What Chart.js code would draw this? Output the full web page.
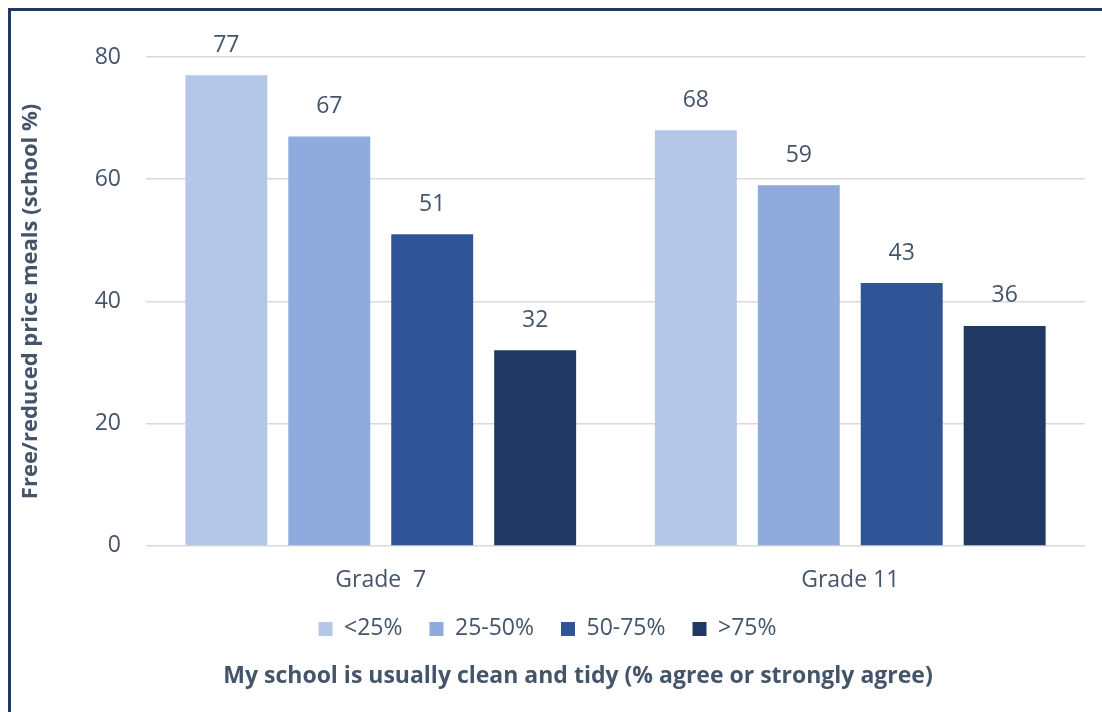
<!DOCTYPE html>
<html lang="en">
<head>
    <meta charset="UTF-8">
    <title>My school is usually clean and tidy</title>
    <script src="https://cdn.jsdelivr.net/npm/chart.js"></script>
    <style>
        body { margin: 0; background: #fff; }
        #frame {
            position: absolute; left: 8px; top: 8px;
            width: 1110px; height: 720px;
            border-left: 3px solid #1F3864; border-top: 3px solid #1F3864;
        }
        #wrap { position: absolute; left: 0; top: 0; width: 1102px; height: 712px; }
    </style>
</head>
<body>
    <div id="frame"></div>
    <div id="wrap"><canvas id="cleanChart" width="1102" height="712"></canvas></div>

    <script>
        const grades = ['Grade  7', 'Grade 11'];
        const mealGroups = ['<25%', '25-50%', '50-75%', '>75%'];
        const under25 = [77, 68];
        const from25to50 = [67, 59];
        const from50to75 = [51, 43];
        const over75 = [32, 36];
        const groupColors = ['#B4C7E7', '#8FAADC', '#2F5597', '#203864'];

        const textColor = '#44546A';
        const fontFamily = '"Open Sans", Lato, sans-serif';

        // value labels above each bar
        const barValues = {
            id: 'barValues',
            afterDatasetsDraw(chart) {
                const ctx = chart.ctx;
                ctx.save();
                ctx.fillStyle = textColor;
                ctx.font = '23px ' + fontFamily;
                ctx.textAlign = 'center';
                ctx.textBaseline = 'middle';
                chart.data.datasets.forEach((ds, i) => {
                    chart.getDatasetMeta(i).data.forEach((bar, j) => {
                        ctx.fillText(ds.data[j], bar.x, bar.y - 30);
                    });
                });
                ctx.restore();
            }
        };

        // nudge the bottom title a bit to the right
        const shiftTitle = {
            id: 'shiftTitle',
            afterLayout(chart) {
                if (chart.titleBlock) chart.titleBlock.left = 71;
            }
        };

        const seriesData = [under25, from25to50, from50to75, over75];

        const ctx = document.getElementById('cleanChart').getContext('2d');
        new Chart(ctx, {
            type: 'bar',
            data: {
                labels: grades,
                datasets: mealGroups.map((name, i) => ({
                    label: name,
                    data: seriesData[i],
                    backgroundColor: groupColors[i],
                    categoryPercentage: 0.877,
                    barPercentage: 0.796
                }))
            },
            options: {
                responsive: false,
                animation: false,
                layout: { padding: { top: 57, right: 17, bottom: 22, left: 10 } },
                plugins: {
                    tooltip: { enabled: false },
                    legend: {
                        position: 'bottom',
                        labels: {
                            color: textColor,
                            font: { family: fontFamily, size: 23 },
                            boxWidth: 14,
                            boxHeight: 14,
                            padding: 27
                        }
                    },
                    title: {
                        display: true,
                        position: 'bottom',
                        text: 'My school is usually clean and tidy (% agree or strongly agree)',
                        color: textColor,
                        font: { family: fontFamily, size: 23, weight: 'bold' },
                        padding: { top: 12, bottom: 0 }
                    }
                },
                scales: {
                    x: {
                        afterFit(scale) { scale.height = 44.5; },
                        grid: { display: false },
                        border: { display: false },
                        ticks: {
                            color: textColor,
                            font: { family: fontFamily, size: 23 },
                            padding: 13
                        }
                    },
                    y: {
                        min: 0,
                        max: 80,
                        afterFit(scale) { scale.width = 136; },
                        grid: { color: '#D9D9D9', lineWidth: 1.5, drawTicks: false },
                        border: { display: false },
                        ticks: {
                            stepSize: 20,
                            color: textColor,
                            font: { family: fontFamily, size: 23 },
                            padding: 25
                        },
                        title: {
                            display: true,
                            text: 'Free/reduced price meals (school %)',
                            color: textColor,
                            font: { family: fontFamily, size: 22, weight: 'bold' },
                            padding: { top: 8, bottom: 0 }
                        }
                    }
                }
            },
            plugins: [barValues, shiftTitle]
        });
    </script>
</body>
</html>
